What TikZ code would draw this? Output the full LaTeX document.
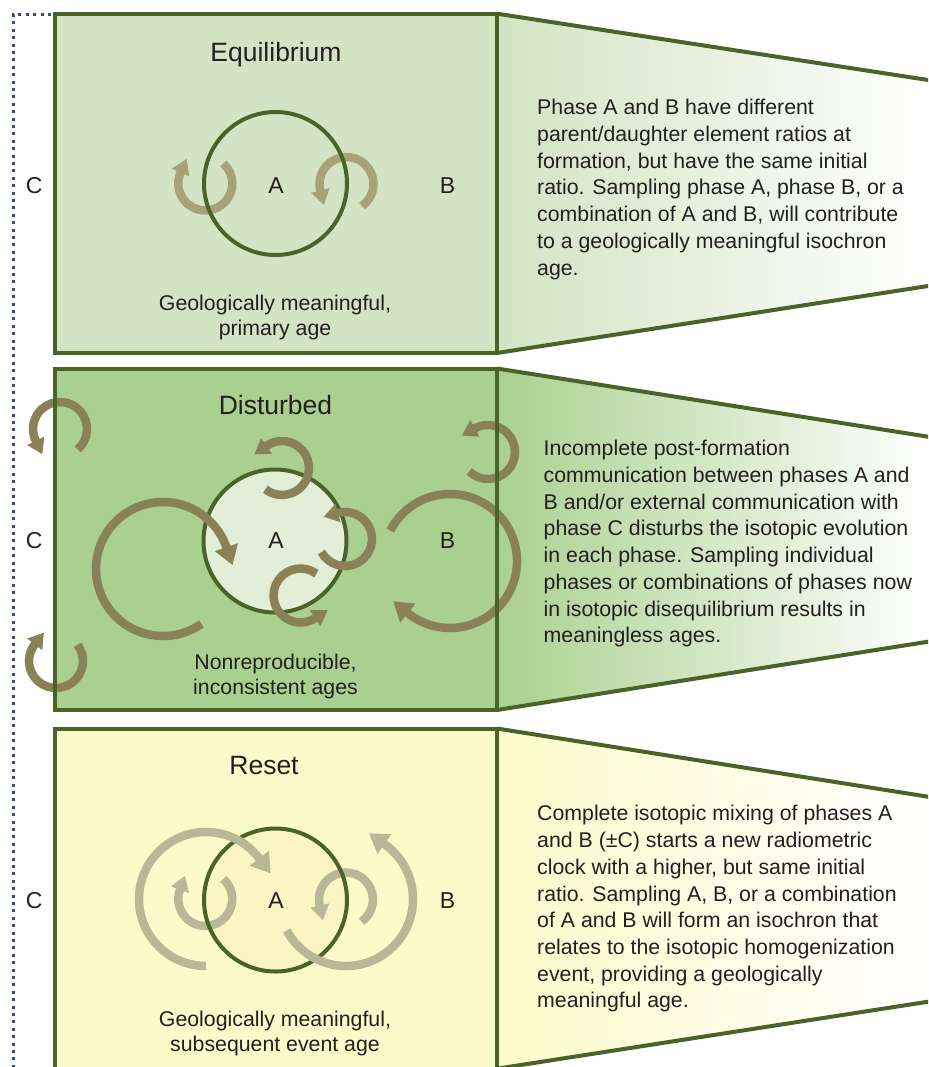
\documentclass[tikz,border=0pt]{standalone}
\usepackage{fontspec}
\setmainfont{Liberation Sans}
\usetikzlibrary{arrows.meta}
\definecolor{frameC}{RGB}{74,99,40}
\definecolor{pA}{RGB}{210,228,195}
\definecolor{pB}{RGB}{170,208,143}
\definecolor{pBin}{RGB}{227,238,216}
\definecolor{pC}{RGB}{253,250,202}
\definecolor{pCin}{RGB}{250,245,194}
\definecolor{arA}{RGB}{168,162,122}
\definecolor{arB}{RGB}{138,130,86}
\definecolor{arC}{RGB}{185,183,150}
\definecolor{dotC}{RGB}{45,82,130}
\definecolor{txt}{RGB}{35,31,32}
% clockwise (screen) ring arrow: style, centre, radius, start, end, head length
\newcommand\cwarr[6]{\draw[#1] (#2) ++(#4:#3) arc[start angle=#4,end angle=#5,radius=#3] -- ++({#5+90}:#6);}
% counter-clockwise (screen) ring arrow
\newcommand\ccwarr[6]{\draw[#1] (#2) ++(#4:#3) arc[start angle=#4,end angle=#5,radius=#3] -- ++({#5-90}:#6);}
\begin{document}
\begin{tikzpicture}[x=1pt,y=-1pt,
  frm/.style={draw=frameC,line width=4pt},
  ringA/.style={draw=frameC,line width=4pt},
  sm/.style={line width=8.5pt,-{Triangle[width=18pt,length=15pt]}},
  bg/.style={line width=8.5pt,-{Triangle[width=23pt,length=19pt]}},
  ttl/.style={text=txt,font=\fontsize{26.5}{30}\selectfont,inner sep=0pt,anchor=base},
  lbl/.style={text=txt,font=\fontsize{23}{27}\selectfont,inner sep=0pt,anchor=base},
  captxt/.style={text=txt,font=\fontsize{21.3}{25.3}\selectfont,inner sep=0pt,anchor=north,align=center},
  bodytxt/.style={text=txt,font=\fontsize{21.3}{26.7}\selectfont,inner sep=0pt,anchor=north west,align=left},
  dotline/.style={draw=dotC,line width=3pt,dash pattern=on 3pt off 4.4pt}
]
\useasboundingbox (0,0) rectangle (928,1067);
\clip (0,0) rectangle (928,1067);

% ---------------- Panel 1 : Equilibrium ----------------
\shade[left color=pA,right color=white] (497,13.7) -- (930,80.3) -- (930,285.7) -- (497,353) -- cycle;
\fill[pA] (55,13.7) rectangle (497,353);
\cwarr{sm,draw=arA}{205.3,183.5}{27}{-48}{204}{15}
\ccwarr{sm,draw=arA}{346.5,184}{27}{55}{-194}{15}
\draw[ringA] (275.5,183.5) circle[radius=71.5];
\draw[frm] (55,13.7) rectangle (497,353);
\draw[frm] (497,13.7) -- (930,80.3);
\draw[frm] (497,353) -- (930,285.7);

\node[ttl] (t1) at (276,61.7) {Equilibrium};
\node[lbl] (c1) at (34.3,194) {C};
\node[lbl] (a1) at (276,194) {A};
\node[lbl] (b1) at (447.5,194) {B};
\node[captxt] (g1) at (275,292.3) {\strut Geologically meaningful,\\primary age};
\node[bodytxt] (x1) at (537,96) {\strut Phase A and B have different\\parent/daughter element ratios at\\formation, but have the same initial\\ratio. Sampling phase A, phase B, or a\\combination of A and B, will contribute\\to a geologically meaningful isochron\\age.};

% ---------------- Panel 2 : Disturbed ----------------
\shade[left color=pB,right color=white] (497,368.5) -- (930,437) -- (930,641.4) -- (497,710) -- cycle;
\fill[pB] (55,368.5) rectangle (497,710);
\draw[ringA,fill=pBin] (275,541) circle[radius=71.5];
\ccwarr{sm,draw=arB}{60,429}{27}{49}{-206}{15}
\cwarr{sm,draw=arB}{56,661}{27}{-37}{218}{15}
\cwarr{bg,draw=arB}{163,569}{67}{55}{341}{19}
\ccwarr{sm,draw=arB}{282,468}{27}{128}{-125}{15}
\ccwarr{sm,draw=arB}{345,539}{27}{151}{-105}{15}
\ccwarr{sm,draw=arB}{300.5,595.5}{27}{-54}{-303}{15}
\ccwarr{sm,draw=arB}{488,452}{27}{134}{-119}{15}
\cwarr{bg,draw=arB}{450,561}{67}{-153}{129}{19}
\draw[frm] (55,368.5) rectangle (497,710);
\draw[frm] (497,368.5) -- (930,437);
\draw[frm] (497,710) -- (930,641.4);

\node[ttl] (t2) at (275.5,414) {Disturbed};
\node[lbl] (c2) at (34.3,548.3) {C};
\node[lbl] (a2) at (276,548.3) {A};
\node[lbl] (b2) at (447.5,548.3) {B};
\node[captxt] (g2) at (275.5,651.6) {\strut Nonreproducible,\\inconsistent ages};
\node[bodytxt] (x2) at (543.5,437) {\strut Incomplete post-formation\\communication between phases A and\\B and/or external communication with\\phase C disturbs the isotopic evolution\\in each phase. Sampling individual\\phases or combinations of phases now\\in isotopic disequilibrium results in\\meaningless ages.};

% ---------------- Panel 3 : Reset ----------------
\shade[left color=pC,right color=white] (497,728.5) -- (930,797) -- (930,1001.4) -- (497,1068.7) -- cycle;
\fill[pC] (55,728.5) rectangle (497,1075);
\fill[pCin] (275.5,900) circle[radius=71.5];
\cwarr{sm,draw=arC}{205.3,899}{27}{-48}{200}{15}
\ccwarr{sm,draw=arC}{346,899.5}{27}{55}{-193}{15}
\draw[ringA] (275.5,900) circle[radius=71.5];
\cwarr{bg,draw=arC}{206,899}{67}{90}{322.6}{19}
\ccwarr{bg,draw=arC}{346,899}{67}{152}{-55}{19}
\draw[frm] (55,728.5) rectangle (497,1075);
\draw[frm] (497,728.5) -- (930,797);
\draw[frm] (497,1068.7) -- (930,1001.4);

\node[ttl] (t3) at (264,774) {Reset};
\node[lbl] (c3) at (34.3,908.3) {C};
\node[lbl] (a3) at (276,908.3) {A};
\node[lbl] (b3) at (447.5,908.3) {B};
\node[captxt] (g3) at (275,1008.3) {\strut Geologically meaningful,\\subsequent event age};
\node[bodytxt] (x3) at (537,802) {\strut Complete isotopic mixing of phases A\\and B (±C) starts a new radiometric\\clock with a higher, but same initial\\ratio. Sampling A, B, or a combination\\of A and B will form an isochron that\\relates to the isotopic homogenization\\event, providing a geologically\\meaningful age.};

% dotted bracket
\draw[dotline] (51,15) -- (13,15) -- (13,1070);
\end{tikzpicture}
\end{document}
